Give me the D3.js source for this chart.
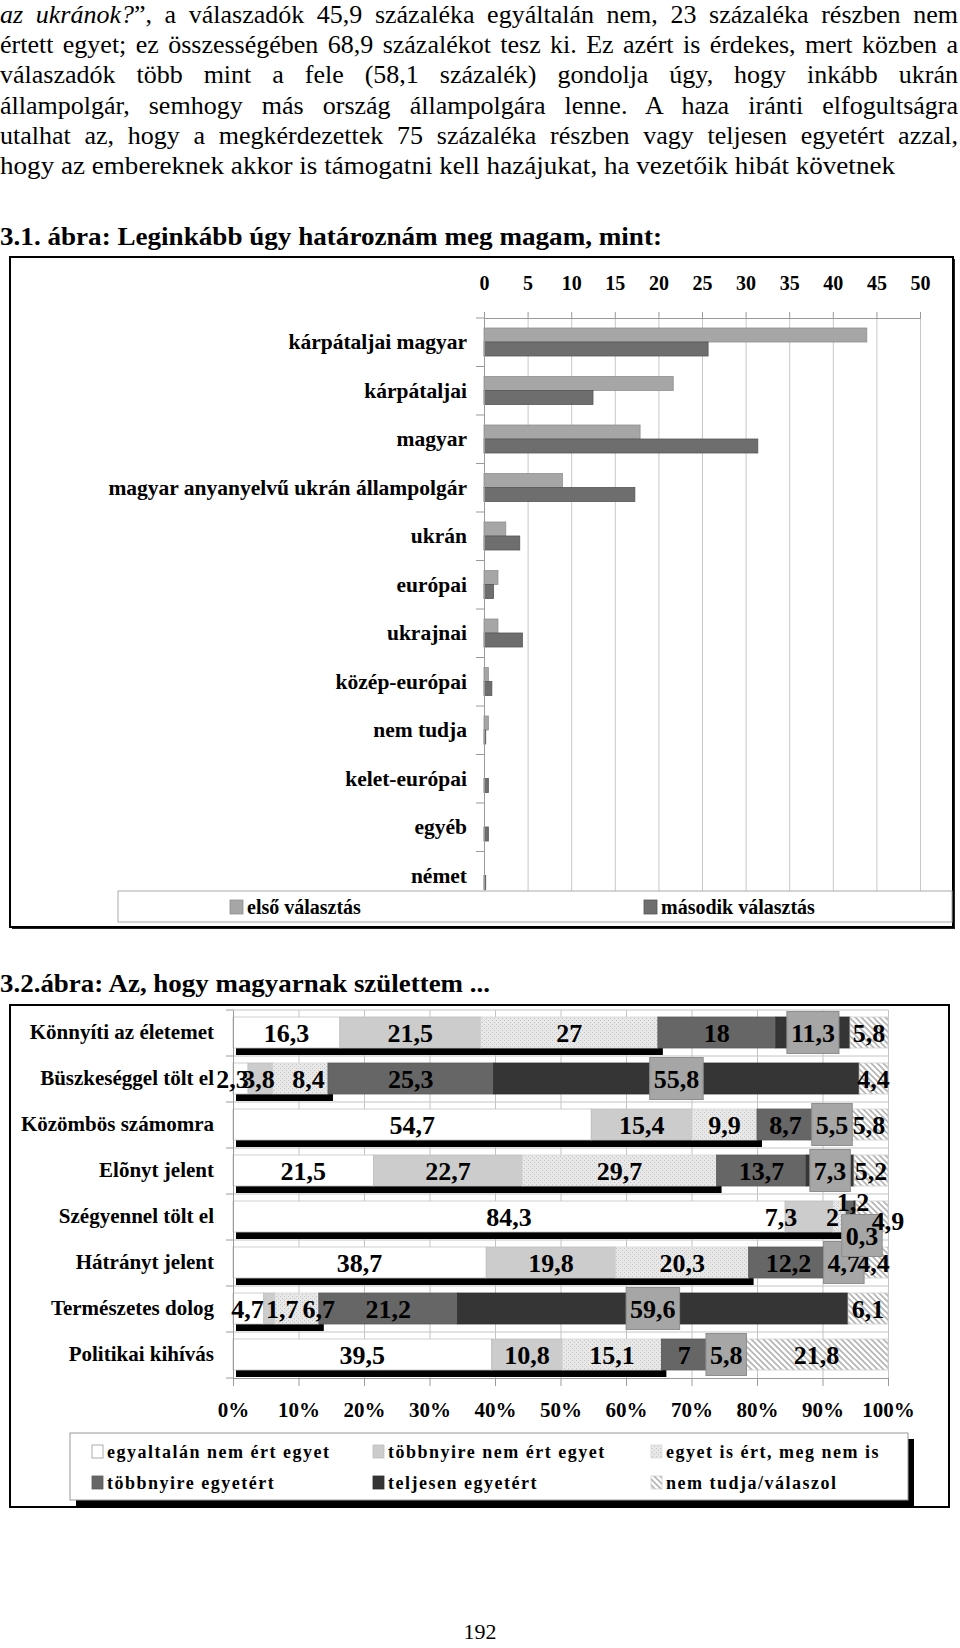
<!DOCTYPE html>
<html><head><meta charset="utf-8">
<script src="https://cdn.jsdelivr.net/npm/d3@7"></script>
<style>body{margin:0;background:#fff}svg{display:block}</style>
</head><body><svg id="page" width="960" height="1648"></svg>
<script>
// ---------- text ----------
const paraLine1Italic = "az ukránok?";
const paraLines = [
  "”, a válaszadók 45,9 százaléka egyáltalán nem, 23 százaléka részben nem",
  "értett egyet; ez összességében 68,9 százalékot tesz ki. Ez azért is érdekes, mert közben a",
  "válaszadók több mint a fele (58,1 százalék) gondolja úgy, hogy inkább ukrán",
  "állampolgár, semhogy más ország állampolgára lenne. A haza iránti elfogultságra",
  "utalhat az, hogy a megkérdezettek 75 százaléka részben vagy teljesen egyetért azzal,",
  "hogy az embereknek akkor is támogatni kell hazájukat, ha vezetőik hibát követnek"
];
const title1 = "3.1. ábra: Leginkább úgy határoznám meg magam, mint:";
const title2 = "3.2.ábra: Az, hogy magyarnak születtem ...";
const pageNumber = "192";

// ---------- chart 1 data ----------
const cats1 = ["kárpátaljai magyar","kárpátaljai","magyar","magyar anyanyelvű ukrán állampolgár","ukrán","európai","ukrajnai","közép-európai","nem tudja","kelet-európai","egyéb","német"];
const firstChoice  = [43.9, 21.7, 17.9, 9.0, 2.5, 1.6, 1.6, 0.5, 0.5, 0, 0, 0];
const secondChoice = [25.7, 12.5, 31.4, 17.3, 4.1, 1.1, 4.4, 0.9, 0.2, 0.5, 0.5, 0.2];
const ticks1 = [0,5,10,15,20,25,30,35,40,45,50];
const series1Names = ["első választás","második választás"];

// ---------- chart 2 data ----------
const cats2 = ["Könnyíti az életemet","Büszkeséggel tölt el","Közömbös számomra","Elõnyt jelent","Szégyennel tölt el","Hátrányt jelent","Természetes dolog","Politikai kihívás"];
const series2Names = ["egyaltalán nem ért egyet","többnyire nem ért egyet","egyet is ért, meg nem is","többnyire egyetért","teljesen egyetért","nem tudja/válaszol"];
const nemErtEgyet      = [16.3, 2.3, 54.7, 21.5, 84.3, 38.7, 4.7, 39.5];
const tobbnyireNem     = [21.5, 3.8, 15.4, 22.7, 7.3, 19.8, 1.7, 10.8];
const egyetIsNemIs     = [27, 8.4, 9.9, 29.7, 2, 20.3, 6.7, 15.1];
const tobbnyireEgyet   = [18, 25.3, 8.7, 13.7, 1.2, 12.2, 21.2, 7];
const teljesenEgyet    = [11.3, 55.8, 5.5, 7.3, 0.3, 4.7, 59.6, 5.8];
const nemTudja         = [5.8, 4.4, 5.8, 5.2, 4.9, 4.4, 6.1, 21.8];
const ticks2 = [0,0.1,0.2,0.3,0.4,0.5,0.6,0.7,0.8,0.9,1];
// label nudges for crowded labels: [row, series, dx, dy]
const labelNudges = [[1,0,-8,0],[1,1,-2,0],[1,2,8,0],[4,1,-28,0],[4,2,-7,0],[4,3,3,-15],[4,4,7,19],[4,5,16,4],[6,0,-1,0],[6,1,13,0],[6,2,22,0]];

// ---------- drawing ----------
const svg = d3.select("#page");
const serif = "'Liberation Serif','Times New Roman',Times,serif";

function fit(t, target, justify) {
  const node = t.node();
  const w = node.getComputedTextLength();
  if (w > target || !justify) {
    t.attr("textLength", target).attr("lengthAdjust", "spacingAndGlyphs");
  } else {
    const n = (node.textContent.match(/ /g) || []).length;
    t.attr("word-spacing", n ? (target - w) / n : 0);
  }
}

// paragraph
paraLines.forEach((line, i) => {
  const t = svg.append("text").attr("x", 0).attr("y", 23 + i * 30.2)
    .attr("font-family", serif).attr("font-size", 26).attr("fill", "#000");
  if (i === 0) {
    t.append("tspan").attr("font-style", "italic").text(paraLine1Italic);
    t.append("tspan").text(line);
  } else t.text(line);
  fit(t, i < 5 ? 958 : 895, i < 5);
});

const t1 = svg.append("text").attr("x", 0).attr("y", 245).attr("font-family", serif)
  .attr("font-size", 25).attr("font-weight", "bold").text(title1);
fit(t1, 662, false);

// ===== chart 1 =====
svg.append("rect").attr("x", 12).attr("y", 259).attr("width", 943).attr("height", 670).attr("fill", "#222");
svg.append("rect").attr("x", 10).attr("y", 257).attr("width", 943).attr("height", 670)
  .attr("fill", "#fff").attr("stroke", "#000").attr("stroke-width", 2);

const x1 = d3.scaleLinear().domain([0, 50]).range([484, 920]);
const y1 = d3.scaleBand().domain(cats1).range([318, 900]);
const sub1 = d3.scaleBand().domain([0, 1]).range([10, 38]);
const colors1 = ["#a6a6a6", "#6e6e6e"];
const strokes1 = ["#8f8f8f", "#555"];

// gridlines
const g1grid = svg.append("g").attr("transform", "translate(0,318)")
  .call(d3.axisBottom(x1).tickValues(ticks1.slice(1)).tickSize(582).tickFormat(""));
g1grid.select(".domain").remove();
g1grid.selectAll("line").attr("stroke", "#c8c8c8");

// top axis
const g1top = svg.append("g").attr("transform", "translate(0,318)")
  .call(d3.axisTop(x1).tickValues(ticks1).tickSize(6).tickPadding(22));
g1top.select(".domain").attr("stroke", "#9a9a9a");
g1top.selectAll("line").attr("stroke", "#9a9a9a");
g1top.selectAll("text").attr("font-family", serif).attr("font-size", 20).attr("font-weight", "bold").attr("fill", "#000");

// bars
const rows1 = cats1.map((c, i) => ({ c, v: [firstChoice[i], secondChoice[i]] }));
rows1.forEach(r => {
  r.v.forEach((v, k) => {
    if (v <= 0) return;
    svg.append("rect").attr("x", x1(0)).attr("y", y1(r.c) + sub1(k))
      .attr("width", x1(v) - x1(0)).attr("height", sub1.bandwidth())
      .attr("fill", colors1[k]).attr("stroke", strokes1[k]).attr("stroke-width", 0.8);
  });
});

// category axis
const g1left = svg.append("g").attr("transform", "translate(484,0)")
  .call(d3.axisLeft(y1).tickSize(0).tickPadding(17));
g1left.select(".domain").attr("stroke", "#9a9a9a");
g1left.selectAll("text").attr("font-family", serif).attr("font-size", 21.5).attr("font-weight", "bold").attr("fill", "#000");
svg.append("g").selectAll("line").data(cats1.map(c => y1(c)).concat([y1.range()[1]]))
  .join("line").attr("x1", 476).attr("x2", 484).attr("y1", d => d).attr("y2", d => d).attr("stroke", "#9a9a9a");

// legend 1
svg.append("rect").attr("x", 118).attr("y", 891).attr("width", 834).attr("height", 31)
  .attr("fill", "#fff").attr("stroke", "#aaa");
[[230, 0], [644, 1]].forEach(([lx, k]) => {
  svg.append("rect").attr("x", lx).attr("y", 900).attr("width", 13).attr("height", 14)
    .attr("fill", colors1[k]).attr("stroke", strokes1[k]).attr("stroke-width", 0.8);
  svg.append("text").attr("x", lx + 17).attr("y", 914).attr("font-family", serif)
    .attr("font-size", 20).attr("font-weight", "bold").text(series1Names[k]);
});

// ===== chart 2 =====
const t2 = svg.append("text").attr("x", 0).attr("y", 992).attr("font-family", serif)
  .attr("font-size", 25).attr("font-weight", "bold").text(title2);
fit(t2, 490, false);

svg.append("rect").attr("x", 10).attr("y", 1005).attr("width", 939).attr("height", 502)
  .attr("fill", "#fff").attr("stroke", "#000").attr("stroke-width", 2);

const defs = svg.append("defs");
const pd = defs.append("pattern").attr("id", "dots").attr("patternUnits", "userSpaceOnUse").attr("width", 4).attr("height", 4);
pd.append("rect").attr("width", 4).attr("height", 4).attr("fill", "#e8e8e8");
pd.append("rect").attr("x", 0).attr("y", 0).attr("width", 1).attr("height", 1).attr("fill", "#c4c4c4");
pd.append("rect").attr("x", 2).attr("y", 2).attr("width", 1).attr("height", 1).attr("fill", "#c4c4c4");
const ph = defs.append("pattern").attr("id", "hatch").attr("patternUnits", "userSpaceOnUse").attr("width", 6).attr("height", 6);
ph.append("rect").attr("width", 6).attr("height", 6).attr("fill", "#fff");
ph.append("path").attr("d", "M0,0L6,6M-3,3L3,9M3,-3L9,3").attr("stroke", "#b3b3b3").attr("stroke-width", 1.6);

const fills2 = ["#ffffff", "#cccccc", "url(#dots)", "#666666", "#353535", "url(#hatch)"];
const strokes2 = ["#c4c4c4", "#bdbdbd", "#d6d6d6", "#5a5a5a", "#2e2e2e", "#cfcfcf"];

const x2 = d3.scaleLinear().domain([0, 1]).range([233, 888]);
const y2 = d3.scaleBand().domain(cats2).range([1010, 1378]);
const barTop = 7, barH = 31;

// grid
const g2grid = svg.append("g").attr("transform", "translate(0,1378)")
  .call(d3.axisBottom(x2).tickValues(ticks2.slice(1)).tickSize(-368).tickFormat(""));
g2grid.select(".domain").remove();
g2grid.selectAll("line").attr("stroke", "#c4c4c4");
svg.append("g").selectAll("line").data(cats2.map(c => y2(c)))
  .join("line").attr("x1", 233).attr("x2", 888).attr("y1", d => d).attr("y2", d => d).attr("stroke", "#c4c4c4");

// data & stack
const seriesArrays = [nemErtEgyet, tobbnyireNem, egyetIsNemIs, tobbnyireEgyet, teljesenEgyet, nemTudja];
const keys = series2Names;
const rows2 = cats2.map((c, i) => {
  const o = { cat: c };
  keys.forEach((k, j) => o[k] = seriesArrays[j][i]);
  return o;
});
const stacked = d3.stack().keys(keys).offset(d3.stackOffsetExpand)(rows2);

// shadow bars under first three series
rows2.forEach((r, i) => {
  const end = stacked[2][i][1];
  svg.append("rect").attr("x", x2(0) + 3).attr("y", y2(r.cat) + barTop + barH)
    .attr("width", x2(end) - x2(0) + 2).attr("height", 7).attr("fill", "#000");
});

stacked.forEach((s, j) => {
  svg.append("g").selectAll("rect").data(s).join("rect")
    .attr("x", d => x2(d[0])).attr("width", d => Math.max(0, x2(d[1]) - x2(d[0])))
    .attr("y", d => y2(d.data.cat) + barTop).attr("height", barH)
    .attr("fill", fills2[j]).attr("stroke", strokes2[j]).attr("stroke-width", 0.8);
});

// axes
const g2bottom = svg.append("g").attr("transform", "translate(0,1378)")
  .call(d3.axisBottom(x2).tickValues(ticks2).tickFormat(d3.format(".0%")).tickSize(8).tickPadding(16));
g2bottom.select(".domain").attr("stroke", "#9a9a9a");
g2bottom.selectAll("line").attr("stroke", "#9a9a9a");
g2bottom.selectAll("text").attr("font-family", serif).attr("font-size", 21).attr("font-weight", "bold").attr("fill", "#000");

const g2left = svg.append("g").attr("transform", "translate(233,0)")
  .call(d3.axisLeft(y2).tickSize(0).tickPadding(19));
g2left.select(".domain").attr("stroke", "#9a9a9a");
g2left.selectAll("text").attr("font-family", serif).attr("font-size", 21).attr("font-weight", "bold").attr("fill", "#000")
  .attr("dy", "0.3em");
svg.append("g").selectAll("line").data(cats2.map(c => y2(c)).concat([y2.range()[1]]))
  .join("line").attr("x1", 226).attr("x2", 233).attr("y1", d => d).attr("y2", d => d).attr("stroke", "#9a9a9a");

// labels (rows drawn bottom-up so upper rows' overflowing labels stay on top)
const fmt = v => d3.format("~g")(v).replace(".", ",");
const labelG = svg.append("g");
d3.range(cats2.length - 1, -1, -1).forEach(i => {
  stacked.forEach((s, j) => {
    const d = s[i];
    const nudge = labelNudges.find(n => n[0] === i && n[1] === j) || [i, j, 0, 0];
    const cx = x2((d[0] + d[1]) / 2) + nudge[2];
    const cy = y2(d.data.cat) + barTop + barH / 2 + nudge[3];
    const g = labelG.append("g");
    const t = g.append("text").attr("x", cx).attr("y", cy).attr("dy", "0.35em")
      .attr("text-anchor", "middle").attr("font-family", serif).attr("font-size", 26)
      .attr("font-weight", "bold").attr("fill", "#000").text(fmt(seriesArrays[j][i]));
    if (j === 4) {
      const bb = t.node().getBBox();
      g.insert("rect", "text").attr("x", bb.x - 4).attr("y", cy - 21).attr("width", bb.width + 8).attr("height", 42)
        .attr("fill", "#a6a6a6").attr("stroke", "#8e8e8e").attr("stroke-width", 1);
    }
  });
});

// legend 2
svg.append("rect").attr("x", 76).attr("y", 1439).attr("width", 838).attr("height", 67).attr("fill", "#000");
svg.append("rect").attr("x", 70).attr("y", 1433).attr("width", 838).attr("height", 67)
  .attr("fill", "#fff").attr("stroke", "#999");
const legCols = [92, 373, 651], legRows = [1452, 1483];
series2Names.forEach((name, j) => {
  const lx = legCols[j % 3], ly = legRows[Math.floor(j / 3)];
  svg.append("rect").attr("x", lx).attr("y", ly - 7).attr("width", 11).attr("height", 13)
    .attr("fill", fills2[j]).attr("stroke", j === 0 ? "#999" : strokes2[j]).attr("stroke-width", 0.8);
  svg.append("text").attr("x", lx + 15).attr("y", ly + 6).attr("font-family", serif)
    .attr("font-size", 18).attr("font-weight", "bold").attr("letter-spacing", 1.5).text(name);
});

// page number
svg.append("text").attr("x", 480).attr("y", 1639).attr("text-anchor", "middle")
  .attr("font-family", serif).attr("font-size", 22).text(pageNumber);
</script>
</body></html>
